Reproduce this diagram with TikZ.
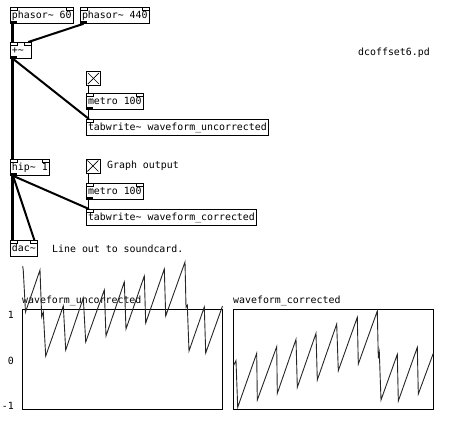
\documentclass[tikz,border=0pt]{standalone}
\usepackage{fontspec}
\newfontfamily\pdfont{DejaVu Sans Mono}
\newcommand{\pdsize}{\pdfont\fontsize{9.9}{11}\selectfont}
\newcommand{\pdtilde}{\textasciitilde}
\newcommand{\inleft}{\draw[line width=0.6pt] (path picture bounding box.north west) rectangle ++(7pt,-2.5pt);}
\newcommand{\inright}{\draw[line width=0.6pt] (path picture bounding box.north east) rectangle ++(-7pt,-2.5pt);}
\newcommand{\outleft}{\fill (path picture bounding box.south west) rectangle ++(7pt,2.2pt);}

\tikzset{
        pdobj/.style={draw, line width=0.8pt, font=\pdsize, anchor=north west,
                inner xsep=1.6pt, inner ysep=0pt, minimum height=16pt,
                text height=9.5pt, text depth=2.5pt},
        iotwo/.style={pdobj, path picture={\inleft\inright\outleft}},
        inonly/.style={pdobj, path picture={\inleft}},
        intwo/.style={pdobj, path picture={\inleft\inright}},
        pdtgl/.style={draw, line width=0.8pt, minimum size=14pt, inner sep=0pt, anchor=north west,
                path picture={
                \draw[line width=0.7pt] ([shift={(1.5pt,-1.5pt)}]path picture bounding box.north west) -- ([shift={(-1.5pt,1.5pt)}]path picture bounding box.south east);
                \draw[line width=0.7pt] ([shift={(-1.5pt,-1.5pt)}]path picture bounding box.north east) -- ([shift={(1.5pt,1.5pt)}]path picture bounding box.south west);}},
        pdtext/.style={font=\pdsize, inner sep=0pt, anchor=west},
        sig/.style={line width=2pt},
        ctl/.style={line width=0.8pt},
        graphbox/.style={draw, line width=0.8pt, minimum width=200pt, minimum height=100pt, inner sep=0pt, anchor=north west},
        wave/.style={line width=0.9pt, black!85}
}

\begin{document}
\begin{tikzpicture}[x=1pt,y=-1pt]
                \useasboundingbox (0,0) rectangle (457,437);

                \node[iotwo] (ph60) at (10,7) {phasor\pdtilde{} 60};
                \node[iotwo] (ph440) at (80,7) {phasor\pdtilde{} 440};
                \node[iotwo, text width=17.8pt, align=left] (plus) at (10,42) {+\pdtilde};
                \node[pdtext] (title) at (358,53) {dcoffset6.pd};

                \node[pdtgl] (tgla) at (86,71) {};
                \node[iotwo] (metroa) at (86,93) {metro 100};
                \node[inonly] (tabwa) at (86,119) {tabwrite\pdtilde{} waveform\_uncorrected};

                \node[iotwo] (hip) at (10,159) {hip\pdtilde{} 1};
                \node[pdtgl] (tglb) at (85.5,158.5) {};
                \node[pdtext] (graphout) at (107,166) {Graph output};
                \node[iotwo] (metrob) at (86,183) {metro 100};
                \node[inonly] (tabwb) at (86,209) {tabwrite\pdtilde{} waveform\_corrected};

                \node[intwo] (dac) at (10,240) {dac\pdtilde};
                \node[pdtext] (lineout) at (52,249) {Line out to soundcard.};

                \draw[sig, line width=2.6pt] ([xshift=2.5pt]ph60.south west) -- ([xshift=2.5pt]plus.north west);
                \draw[sig] ([xshift=3.5pt]ph440.south west) -- ([xshift=-3.5pt]plus.north east);
                \draw[sig, line width=2.6pt] ([xshift=2.5pt]plus.south west) -- ([xshift=2.5pt]hip.north west);
                \draw[sig] ([xshift=3pt]plus.south west) -- ([xshift=3pt]tabwa.north west);
                \draw[ctl] ([xshift=2.5pt]tgla.south west) -- ([xshift=2.5pt]metroa.north west);
                \draw[ctl] ([xshift=2.5pt]metroa.south west) -- ([xshift=2.5pt]tabwa.north west);
                \draw[ctl] ([xshift=3pt]tglb.south west) -- ([xshift=2.5pt]metrob.north west);
                \draw[ctl] ([xshift=2.5pt]metrob.south west) -- ([xshift=2.5pt]tabwb.north west);
                \draw[sig, line width=2.6pt] ([xshift=2.5pt]hip.south west) -- ([xshift=2.5pt]dac.north west);
                \draw[sig] ([xshift=3pt]hip.south west) -- ([xshift=-3.5pt]dac.north east);
                \draw[sig] ([xshift=3pt]hip.south west) -- ([xshift=3pt]tabwb.north west);

                \node[graphbox] (gunc) at (22,309) {};
                \node[pdtext, anchor=base west] (gunclabel) at (22,303.5) {waveform\_uncorrected};
                \node[pdtext, anchor=base east] (yone) at (14,318.5) {1};
                \node[pdtext, anchor=base east] (yzero) at (14,364.5) {0};
                \node[pdtext, anchor=base east] (ymone) at (14,409) {-1};
                \draw[wave] plot coordinates {(22.7,266) (23.3,271) (25.5,312) (40,270) (41.7,317) (43.3,312)
                        (45.7,356) (63.3,306) (65.7,350) (83.3,298) (85.7,342) (104.3,290) (106,336)
                        (124.3,282) (126,329) (144.3,276) (145.7,323) (164.3,269) (165.7,316) (185,262)
                        (186,307) (187.3,305) (189,351) (204.3,307) (205.7,353) (222.5,306)};

                \node[graphbox] (gcor) at (233.3,309) {};
                \node[pdtext, anchor=base west] (gcorlabel) at (233,303.5) {waveform\_corrected};
                \draw[wave] plot coordinates {(233.3,366) (236,360.7) (237.7,407.3) (256.7,353.3) (257.3,400)
                        (276.7,346.7) (277.3,393.3) (296,339.3) (297.3,387.3) (316,333.3) (317.3,380)
                        (336.7,324) (338.3,370.7) (357.3,317.3) (358.3,364) (377.3,311) (378.3,358.3)
                        (379.3,352.3) (381,400) (397.3,354.3) (398.3,401) (417.3,347.3) (418.3,394) (433.3,353.3)};
\end{tikzpicture}
\end{document}
